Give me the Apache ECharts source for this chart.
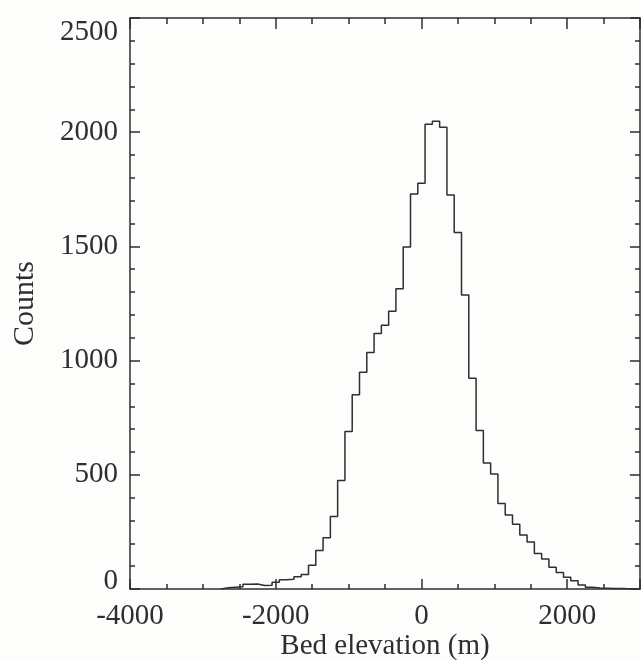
<!DOCTYPE html>
<html lang="en">
<head>
  <meta charset="UTF-8">
  <title>Bed elevation histogram</title>
  <style>
    * { margin: 0; padding: 0; }
    body { background: #fdfdfc; }
    #chart { width: 641px; height: 660px; }
  </style>
</head>
<body>
  <div id="chart"></div>
  <script src="https://cdn.jsdelivr.net/npm/echarts@6/dist/echarts.min.js"></script>
  <script type="text/javascript">
  // bin centres (m), 100 m wide bins
  var binCenters = [
    -2700, -2600, -2500, -2400, -2300, -2200, -2100, -2000, -1900, -1800,
    -1700, -1600, -1500, -1400, -1300, -1200, -1100, -1000, -900, -800,
    -700, -600, -500, -400, -300, -200, -100, 0, 100, 200,
    300, 400, 500, 600, 700, 800, 900, 1000, 1100, 1200,
    1300, 1400, 1500, 1600, 1700, 1800, 1900, 2000, 2100, 2200,
    2300, 2400, 2500, 2600, 2700, 2800, 2900
  ];
  var counts = [
    6, 8, 10, 21, 22, 15, 16, 30, 40, 43,
    54, 64, 104, 169, 224, 317, 475, 690, 850, 949,
    1035, 1119, 1155, 1216, 1315, 1497, 1729, 1777, 2035, 2048,
    2022, 1725, 1561, 1287, 923, 694, 552, 503, 374, 324,
    283, 236, 206, 155, 131, 95, 72, 51, 36, 17,
    8, 4, 3, 2, 2, 1, 1
  ];
  var binWidth = 100;
  var xTickLabels = [-4000, -2000, 0, 2000];
  var yTickLabels = [0, 500, 1000, 1500, 2000, 2500];

  var font = 'Liberation Serif';
  var ink = '#2e2e2e';

  function main () {
    var chart = echarts.init(document.getElementById('chart'));

    // step outline through bin edges
    var steps = [[binCenters[0] - binWidth / 2, 0]];
    binCenters.forEach(function (c, i) {
      steps.push([c - binWidth / 2, counts[i]]);
    });
    steps.push([binCenters[binCenters.length - 1] + binWidth / 2, 0]);

    var lineStyle = { color: ink, width: 1.5 };

    function xAxis (pos, interval, tickLen, withLabels) {
      return {
        type: 'value', position: pos, min: -4000, max: 3000, interval: interval,
        axisLine: { show: interval === 500, onZero: false, lineStyle: lineStyle },
        axisTick: { inside: true, length: tickLen, lineStyle: lineStyle },
        splitLine: { show: false },
        axisLabel: withLabels ? {
          show: true, margin: 13, showMaxLabel: false,
          fontFamily: font, fontSize: 29, color: ink,
          formatter: function (v) { return xTickLabels.indexOf(v) >= 0 ? String(v) : ''; }
        } : { show: false },
        name: withLabels ? 'Bed elevation (m)' : '',
        nameLocation: 'middle', nameGap: 43, nameMoveOverlap: false,
        nameTextStyle: { fontFamily: font, fontSize: 29, color: ink }
      };
    }

    function yAxis (pos, withLabels) {
      return {
        type: 'value', position: pos, min: 0, max: 2500, interval: 500,
        axisLine: { show: true, onZero: false, lineStyle: lineStyle },
        axisTick: { inside: true, length: 10, lineStyle: lineStyle },
        minorTick: { show: true, splitNumber: 5, length: 5, lineStyle: lineStyle },
        splitLine: { show: false },
        minorSplitLine: { show: false },
        axisLabel: withLabels ? {
          show: true, margin: 12, fontFamily: font, fontSize: 29, color: ink,
          formatter: function (v) {
            if (yTickLabels.indexOf(v) < 0) return '';
            if (v === 2500) return '{t|' + v + '}';
            if (v === 0) return '{b|' + v + '}';
            return String(v);
          },
          rich: {
            t: { fontFamily: font, fontSize: 29, color: ink, padding: [28, 0, 0, 0] },
            b: { fontFamily: font, fontSize: 29, color: ink, padding: [0, 0, 16, 0] }
          }
        } : { show: false },
        name: withLabels ? 'Counts' : '',
        nameLocation: 'middle', nameGap: 90, nameMoveOverlap: false,
        nameTextStyle: { fontFamily: font, fontSize: 30, color: ink }
      };
    }

    var option = {
      animation: false,
      backgroundColor: '#fdfdfc',
      grid: { left: 130, right: 1, top: 18, bottom: 71, containLabel: false, outerBoundsMode: 'none' },
      xAxis: [
        xAxis('bottom', 500, 5, true),
        xAxis('bottom', 2000, 10, false),
        xAxis('top', 500, 6, false),
        xAxis('top', 2000, 11, false)
      ],
      yAxis: [
        yAxis('left', true),
        yAxis('right', false)
      ],
      series: [{
        type: 'line',
        step: 'end',
        xAxisIndex: 0,
        yAxisIndex: 0,
        data: steps,
        showSymbol: false,
        lineStyle: lineStyle
      }]
    };
    chart.setOption(option);
  }

  window.addEventListener('load', main);
  </script>
</body>
</html>
